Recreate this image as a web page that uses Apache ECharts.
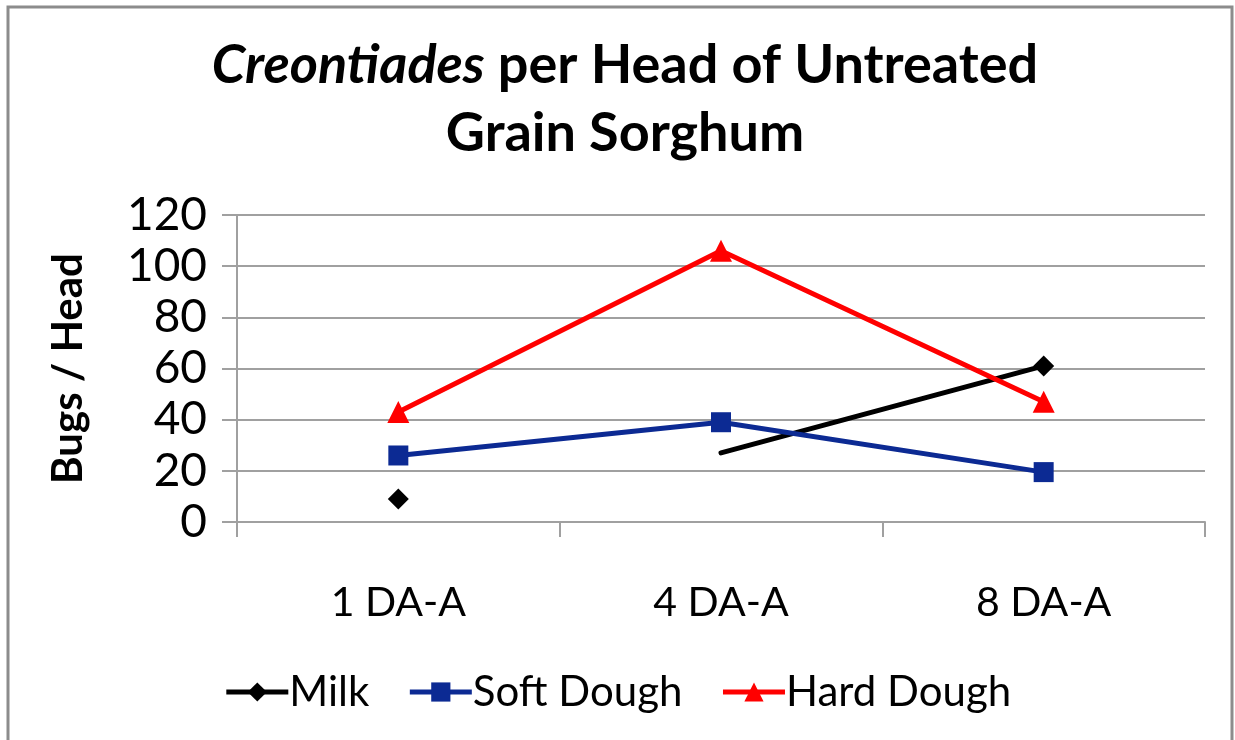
<!DOCTYPE html>
<html>
<head>
<meta charset="utf-8">
<script src="https://cdn.jsdelivr.net/npm/echarts@6/dist/echarts.min.js"></script>
<style>
  html, body { margin: 0; padding: 0; background: #fff; }
  #chart { width: 1235px; height: 740px; }
</style>
</head>
<body>
<div id="chart"></div>
<script>
// data
var categories = ['1 DA-A', '4 DA-A', '8 DA-A'];
var milkFirst = [9, null, null];      // lone point, not joined
var milkRest = [null, 27, 61];        // line starts at 4 DA-A, no marker there
var softDough = [26, 39, 19.5];
var hardDough = [43, 106, 47];
var yTicks = { min: 0, max: 120, step: 20 };

var FONT = 'Lato';
var gridGray = '#a0a0a0';

var chart = echarts.init(document.getElementById('chart'));

var option = {
    backgroundColor: '#fff',
    textStyle: { fontFamily: FONT },
    title: {
        text: '{it|Creontiades} per Head of Untreated\nGrain Sorghum',
        left: 620,
        textAlign: 'center',
        top: 27,
        textStyle: {
            fontFamily: FONT,
            fontWeight: 'bold',
            fontSize: 54,
            lineHeight: 68,
            color: '#000',
            rich: {
                it: { fontFamily: FONT, fontWeight: 'bold', fontStyle: 'italic', fontSize: 54, lineHeight: 68, color: '#000' }
            }
        }
    },
    legend: {
        bottom: 22,
        left: 'center',
        itemWidth: 62,
        itemHeight: 24,
        itemGap: 38,
        lineStyle: { width: 5 },
        textStyle: { fontFamily: FONT, fontSize: 42, color: '#000', padding: [0, 0, 0, -4] },
        data: ['Milk', 'Soft Dough', 'Hard Dough']
    },
    grid: {
        left: 237,
        right: 30,
        top: 215,
        bottom: 218
    },
    xAxis: {
        type: 'category',
        data: categories,
        boundaryGap: true,
        axisLine: { lineStyle: { color: gridGray, width: 2 } },
        axisTick: { show: true, interval: 0, length: 15, lineStyle: { color: gridGray, width: 2 } },
        axisLabel: { margin: 60, fontFamily: FONT, fontSize: 41, color: '#000' }
    },
    yAxis: {
        type: 'value',
        min: yTicks.min,
        max: yTicks.max,
        interval: yTicks.step,
        name: 'Bugs / Head',
        nameLocation: 'middle',
        nameGap: 148,
        nameRotate: 90,
        nameTextStyle: { fontFamily: FONT, fontWeight: 'bold', fontSize: 42, color: '#000' },
        axisLine: { show: true, lineStyle: { color: gridGray, width: 2 } },
        axisTick: { show: true, length: 15, lineStyle: { color: gridGray, width: 2 } },
        axisLabel: { margin: 30, fontFamily: FONT, fontSize: 46, color: '#000' },
        splitLine: { show: true, lineStyle: { color: gridGray, width: 2 } }
    },
    series: [
        {
            name: 'Milk',
            type: 'line',
            data: milkFirst,
            symbol: 'diamond',
            symbolSize: 21,
            color: '#000',
            lineStyle: { width: 5, color: '#000' },
            itemStyle: { color: '#000' }
        },
        {
            name: 'Milk',
            type: 'line',
            data: milkRest.map(function (v, i) { return i === 1 ? { value: v, symbol: 'none' } : v; }),
            symbol: 'diamond',
            symbolSize: 21,
            color: '#000',
            lineStyle: { width: 5, color: '#000', cap: 'round' },
            itemStyle: { color: '#000' }
        },
        {
            name: 'Soft Dough',
            type: 'line',
            data: softDough,
            symbol: 'rect',
            symbolSize: 20,
            color: '#0c2a93',
            lineStyle: { width: 5, color: '#0c2a93' },
            itemStyle: { color: '#0c2a93' }
        },
        {
            name: 'Hard Dough',
            type: 'line',
            data: hardDough,
            symbol: 'triangle',
            symbolSize: 22,
            color: '#ff0000',
            lineStyle: { width: 5, color: '#ff0000' },
            itemStyle: { color: '#ff0000' }
        }
    ],
    graphic: [
        {
            type: 'rect',
            shape: { x: 8, y: 7, width: 1224, height: 760 },
            style: { fill: null, stroke: '#8c8c8c', lineWidth: 3 },
            silent: true,
            z: 100
        }
    ]
};

chart.setOption(option);
</script>
</body>
</html>
